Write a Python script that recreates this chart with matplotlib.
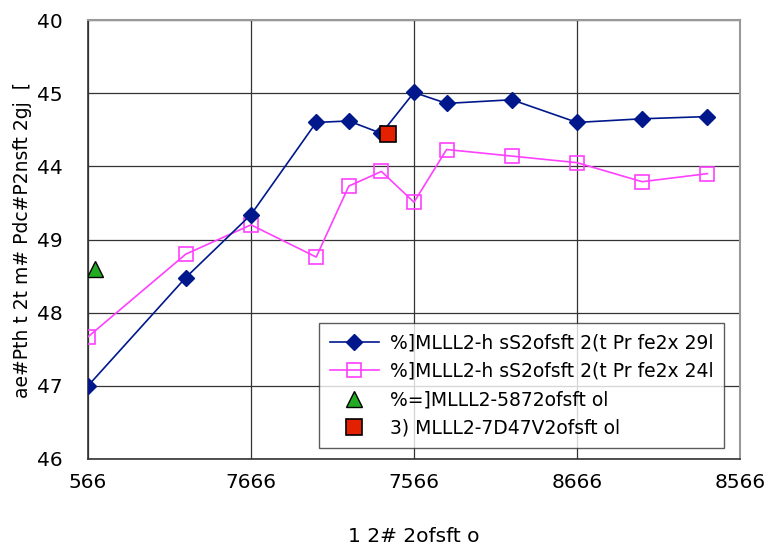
import matplotlib
matplotlib.use('Agg')
import matplotlib.pyplot as plt

# data
x_blue = [500, 800, 1000, 1200, 1300, 1400, 1500, 1600, 1800, 2000, 2200, 2400]
y_blue = [1.0, 2.48, 3.34, 4.60, 4.62, 4.45, 5.01, 4.86, 4.91, 4.60, 4.65, 4.68]

x_pink = [500, 800, 1000, 1200, 1300, 1400, 1500, 1600, 1800, 2000, 2200, 2400]
y_pink = [1.67, 2.80, 3.20, 2.76, 3.73, 3.93, 3.51, 4.23, 4.14, 4.05, 3.79, 3.90]

x_green = [520]
y_green = [2.6]

x_red = [1420]
y_red = [4.44]

labels = ['%]MLLL2-h sS2ofsft 2(t Pr fe2x 29l',
          '%]MLLL2-h sS2ofsft 2(t Pr fe2x 24l',
          '%=]MLLL2-5872ofsft ol',
          '3) MLLL2-7D47V2ofsft ol']

xticks = [500, 1000, 1500, 2000, 2500]
xtick_labels = ['566', '7666', '7566', '8666', '8566']
yticks = [0, 1, 2, 3, 4, 5, 6]
ytick_labels = ['46', '47', '48', '49', '44', '45', '40']

xlabel = '1 2# 2ofsft o'
ylabel = 'ae#Pth t 2t m# Pdc#P2nsft 2gj  ['

plt.rcParams['font.family'] = ['DejaVu Sans']
fs = 13.5
fs_tick = 14.5

fig = plt.figure(figsize=(7.69, 5.54), dpi=100)
ax = fig.add_axes([88/769, 95/554, 652/769, 439/554])

ax.plot(x_blue, y_blue, color='#00188C', lw=1.2, marker='D', ms=8,
        mfc='#00188C', mec='#00188C', label=labels[0], zorder=4)
ax.plot(x_pink, y_pink, color='#FF40FF', lw=1.2, marker='s', ms=10,
        mfc='none', mec='#FF40FF', mew=1.2, label=labels[1], zorder=3)
ax.plot(x_green, y_green, ls='none', marker='^', ms=12, mfc='#22AA22',
        mec='black', mew=1, label=labels[2], zorder=5)
ax.plot(x_red, y_red, ls='none', marker='s', ms=12, mfc='#E32000',
        mec='black', mew=1.2, label=labels[3], zorder=5)

ax.set_xlim(500, 2500)
ax.set_ylim(0, 6)
ax.set_xticks(xticks)
ax.set_xticklabels(xtick_labels, fontsize=fs_tick)
ax.set_yticks(yticks)
ax.set_yticklabels(ytick_labels, fontsize=fs_tick)
ax.tick_params(length=0, pad=18)
ax.tick_params(axis='x', pad=10)

ax.grid(True, color='#333333', lw=0.9)
ax.set_axisbelow(True)
for s in ['left', 'bottom']:
    ax.spines[s].set_color('#333333')
    ax.spines[s].set_linewidth(1.2)
for s in ['top', 'right']:
    ax.spines[s].set_color('#999999')
    ax.spines[s].set_linewidth(1.5)

ax.set_xlabel(xlabel, fontsize=fs_tick, labelpad=25)
ax.set_ylabel(ylabel, fontsize=13.5, labelpad=4)

leg = ax.legend(loc='lower right', bbox_to_anchor=(0.975, 0.025), fontsize=fs,
                frameon=True, fancybox=False, edgecolor='#333333',
                borderpad=0.55, labelspacing=0.5, handlelength=2.6,
                handletextpad=0.6, borderaxespad=0)
leg.get_frame().set_linewidth(1.0)

fig.savefig('out.png', dpi=100, facecolor='white')
